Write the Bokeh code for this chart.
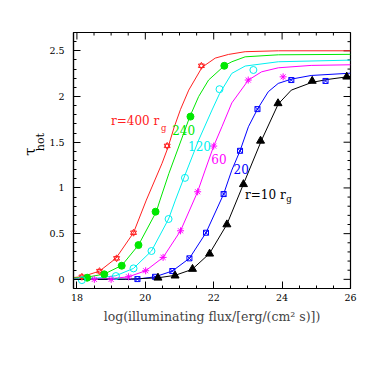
import math
from bokeh.plotting import figure
from bokeh.layouts import row
from bokeh.models import Range1d, LinearAxis, FixedTicker, Label
from bokeh.embed import file_html
from bokeh.resources import INLINE

# ---- data ----
x_major = [18, 20, 22, 24, 26]
x_minor = [18.5, 19, 19.5, 20.5, 21, 21.5, 22.5, 23, 23.5, 24.5, 25, 25.5]
y_major = [0, 0.5, 1, 1.5, 2, 2.5]
y_minor = [0.1, 0.2, 0.3, 0.4, 0.6, 0.7, 0.8, 0.9, 1.1, 1.2, 1.3, 1.4,
           1.6, 1.7, 1.8, 1.9, 2.1, 2.2, 2.3, 2.4, 2.6]
y_labels = {0: "0", 0.5: "0.5", 1: "1", 1.5: "1.5", 2: "2", 2.5: "2.5"}
X0, X1, Y0, Y1 = 17.9, 26.0, -0.1, 2.7

# r = 400 rg (red)
red_cx = [17.9, 18.145, 18.66, 19.14, 19.655, 20.03, 20.49, 20.67, 20.84, 21.03, 21.27, 21.66, 22.045, 22.43, 22.92, 23.89, 26.0]
red_cy = [0.02, 0.028, 0.09, 0.23, 0.51, 0.867, 1.27, 1.45, 1.66, 1.86, 2.07, 2.32, 2.42, 2.46, 2.49, 2.50, 2.50]
red_px = [18.145, 18.66, 19.16, 19.655, 20.64, 21.64]
red_py = [0.028, 0.09, 0.23, 0.51, 1.46, 2.336]

# 240 (green)
grn_cx = [17.9, 18.27, 18.80, 19.315, 19.80, 20.32, 20.43, 20.69, 21.30, 21.56, 21.85, 22.31, 22.53, 22.92, 23.89, 26.0]
grn_cy = [0.014, 0.022, 0.058, 0.153, 0.375, 0.739, 0.867, 1.159, 1.778, 2.0, 2.18, 2.336, 2.38, 2.434, 2.456, 2.461]
grn_px = [18.30, 18.80, 19.31, 19.80, 20.30, 21.32, 22.31]
grn_py = [0.018, 0.055, 0.149, 0.375, 0.74, 1.78, 2.336]

# 120 (cyan)
cyn_cx = [17.9, 18.145, 18.6, 19.14, 19.655, 20.18, 20.68, 20.88, 21.17, 21.56, 21.95, 22.17, 22.53, 22.92, 23.89, 26.0]
cyn_cy = [0.004, 0.007, 0.015, 0.04, 0.12, 0.31, 0.66, 0.867, 1.15, 1.523, 1.852, 2.03, 2.253, 2.333, 2.38, 2.398]
cyn_px = [18.145, 19.14, 19.655, 20.18, 20.68, 21.16, 22.17, 23.16]
cyn_py = [-0.008, 0.036, 0.12, 0.31, 0.66, 1.11, 2.08, 2.29]

# 60 (magenta)
mag_cx = [17.9, 18.51, 19.0, 19.51, 20.01, 20.52, 21.03, 21.53, 21.75, 22.0, 22.24, 22.53, 23.015, 23.40, 23.89, 24.85, 26.0]
mag_cy = [0.0, 0.002, 0.008, 0.028, 0.094, 0.24, 0.531, 0.958, 1.195, 1.458, 1.669, 1.93, 2.18, 2.27, 2.314, 2.34, 2.347]
mag_px = [18.51, 19.0, 19.51, 20.01, 20.52, 21.03, 21.53, 22.0, 23.01, 24.03]
mag_py = [0.0, 0.0, 0.028, 0.094, 0.24, 0.531, 0.958, 1.458, 2.18, 2.215]

# 20 (blue)
blu_cx = [17.9, 19.0, 19.77, 20.285, 20.79, 21.29, 21.775, 22.29, 22.43, 22.53, 22.77, 23.015, 23.28, 23.595, 23.886, 24.27, 24.85, 26.0]
blu_cy = [0.0, 0.0, 0.003, 0.028, 0.091, 0.23, 0.51, 0.933, 1.086, 1.195, 1.406, 1.669, 1.862, 2.052, 2.143, 2.19, 2.23, 2.255]
blu_px = [19.77, 20.285, 20.79, 21.29, 21.775, 22.29, 22.77, 23.28, 24.27, 25.27]
blu_py = [0.003, 0.028, 0.091, 0.23, 0.51, 0.933, 1.406, 1.862, 2.18, 2.17]

# r = 10 rg (black)
blk_cx = [17.9, 19.5, 20.37, 20.87, 21.37, 21.88, 22.385, 22.87, 23.40, 23.886, 24.27, 24.87, 25.34, 26.0]
blk_cy = [0.0, 0.002, 0.017, 0.044, 0.109, 0.284, 0.601, 1.042, 1.523, 1.917, 2.07, 2.154, 2.187, 2.22]
blk_px = [20.37, 20.87, 21.38, 21.88, 22.385, 22.87, 23.37, 23.88, 24.88, 25.89]
blk_py = [0.017, 0.04, 0.113, 0.28, 0.60, 1.04, 1.515, 1.925, 2.17, 2.216]

RED, GRN, CYN, MAG, BLU, BLK = "#ff2020", "#00e800", "#00f0f0", "#ff00ff", "#0000ff", "#000000"
FONT = "DejaVu Serif"

H = 348
LW = 46                     # width of the narrow panel holding the y label
FRAME_W, FRAME_H = 279, 256
MB_L, MB_R, MB_T, MB_B = 25, 24, 32, 60

p = figure(width=MB_L + FRAME_W + MB_R, height=H, output_backend="svg", toolbar_location=None,
           x_range=Range1d(X0, X1), y_range=Range1d(Y0, Y1),
           x_axis_location=None, y_axis_location=None,
           min_border_left=MB_L, min_border_right=MB_R, min_border_top=MB_T, min_border_bottom=MB_B)
p.grid.visible = False
p.outline_line_color = "black"
p.outline_line_width = 1.2
p.background_fill_color = "white"
p.border_fill_color = "white"

def make_axis(ticks, minors):
    ax = LinearAxis(ticker=FixedTicker(ticks=ticks, minor_ticks=minors))
    ax.major_tick_in = 7
    ax.major_tick_out = 0
    ax.minor_tick_in = 3
    ax.minor_tick_out = 0
    ax.axis_line_width = 1.2
    ax.major_label_text_font = FONT
    ax.major_label_text_color = "black"
    ax.major_label_text_font_size = "9.5px"
    return ax

bx = make_axis(x_major, x_minor)
bx.major_label_standoff = 5
bx.axis_label = "log(illuminating flux/[erg/(cm\u00b2 s)])"
bx.axis_label_text_font = FONT
bx.axis_label_text_font_style = "normal"
bx.axis_label_text_font_size = "12.5px"
bx.axis_label_standoff = 5
p.add_layout(bx, "below")

ly = make_axis(y_major, y_minor)
ly.major_label_standoff = 9
ly.major_label_overrides = y_labels
p.add_layout(ly, "left")

# mirrored inward ticks on the top and right edges
ypx = FRAME_H / (Y1 - Y0)
xpx = FRAME_W / (X1 - X0)
p.segment(x0=x_major, y0=[Y1] * len(x_major), x1=x_major, y1=[Y1 - 7 / ypx] * len(x_major),
          line_color="black", line_width=1)
p.segment(x0=x_minor, y0=[Y1] * len(x_minor), x1=x_minor, y1=[Y1 - 3 / ypx] * len(x_minor),
          line_color="black", line_width=1)
p.segment(x0=[X1] * len(y_major), y0=y_major, x1=[X1 - 7 / xpx] * len(y_major), y1=y_major,
          line_color="black", line_width=1)
p.segment(x0=[X1] * len(y_minor), y0=y_minor, x1=[X1 - 3 / xpx] * len(y_minor), y1=y_minor,
          line_color="black", line_width=1)

# curves
for cx, cy, col in [(red_cx, red_cy, RED), (grn_cx, grn_cy, GRN), (cyn_cx, cyn_cy, CYN),
                    (mag_cx, mag_cy, MAG), (blu_cx, blu_cy, BLU), (blk_cx, blk_cy, BLK)]:
    p.line(cx, cy, line_color=col, line_width=1)

# markers
p.scatter(red_px, red_py, marker="triangle", size=6, fill_color=None, line_color=RED, line_width=1)
p.scatter(red_px, red_py, marker="inverted_triangle", size=6, fill_color=None, line_color=RED, line_width=1)
p.scatter(grn_px, grn_py, marker="circle", size=7, fill_color=GRN, line_color=GRN)
p.scatter(cyn_px, cyn_py, marker="circle", size=7, fill_color=None, line_color=CYN, line_width=1)
p.scatter(mag_px, mag_py, marker="asterisk", size=7, line_color=MAG, line_width=1)
p.scatter(blu_px, blu_py, marker="square_x", size=5, fill_color=None, line_color=BLU, line_width=1)
p.scatter(blk_px, blk_py, marker="triangle", size=8, fill_color=BLK, line_color=BLK)

def lab(fig, x, y, text, color, size, align="left", angle=0.0):
    fig.add_layout(Label(x=x, y=y, text=text, text_color=color, text_font=FONT,
                         text_font_size=size, text_align=align, text_baseline="middle",
                         angle=angle))

# curve labels
lab(p, 18.996, 1.734, "r=400 r", RED, "12px")
lab(p, 20.46, 1.66, "g", RED, "8.5px")
lab(p, 20.787, 1.633, "240", GRN, "12px")
lab(p, 21.25, 1.458, "120", CYN, "12px")
lab(p, 21.93, 1.316, "60", MAG, "12px")
lab(p, 22.58, 1.203, "20", BLU, "12px")
lab(p, 22.916, 0.927, "r=10 r", BLK, "12px")
lab(p, 24.12, 0.875, "g", BLK, "8.5px")

# narrow panel on the left carrying the y-axis label  tau_hot (pixel coordinates)
q = figure(width=LW, height=H, output_backend="svg", toolbar_location=None,
           x_range=Range1d(0, LW), y_range=Range1d(H, 0),
           x_axis_location=None, y_axis_location=None,
           min_border_left=0, min_border_right=0, min_border_top=0, min_border_bottom=0)
q.grid.visible = False
q.outline_line_color = None
q.background_fill_color = "white"
q.border_fill_color = "white"
lab(q, 29, 162, "\u03c4", BLK, "15px", align="center", angle=math.pi / 2)
lab(q, 39.5, 149, "hot", BLK, "11px", align="center", angle=math.pi / 2)

layout = row(q, p, spacing=0)
open("out.html", "w").write(file_html(layout, INLINE))
